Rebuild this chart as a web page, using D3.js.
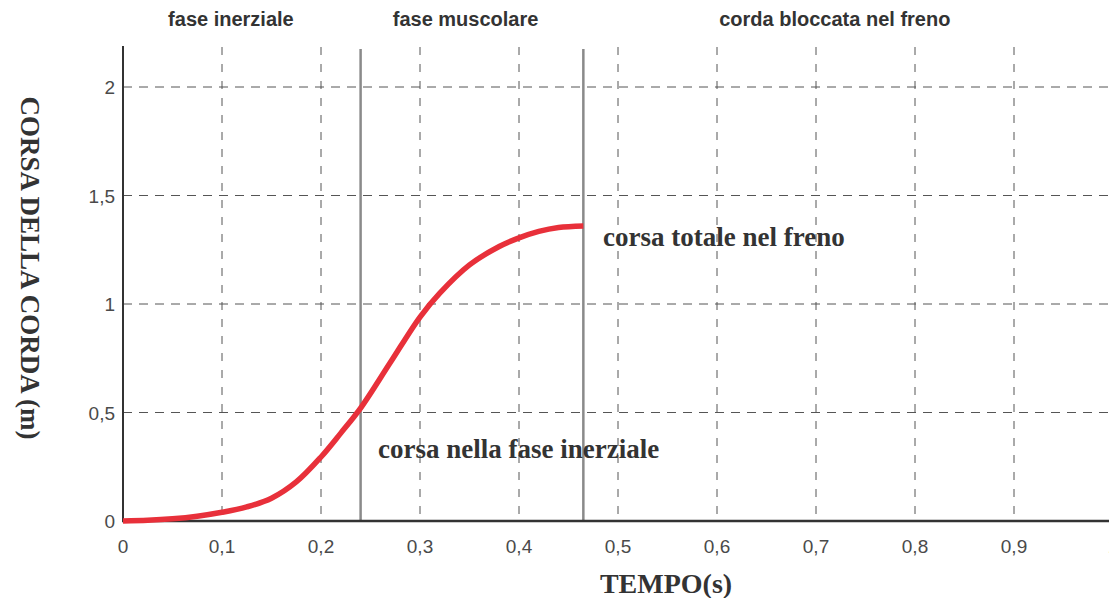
<!DOCTYPE html>
<html lang="it">
<head>
<meta charset="utf-8">
<style>
  body { margin: 0; background: #fff; }
  svg { display: block; }
  .grid { stroke: #555; stroke-width: 1; fill: none; }
  .tick-label { font-family: "Liberation Sans", Arial, sans-serif; font-size: 19px; fill: #4a4a4a; }
  .phase { font-family: "Liberation Sans", Arial, sans-serif; font-size: 20px; font-weight: bold; fill: #333; }
  .serif { font-family: "Liberation Serif", "DejaVu Serif", serif; font-weight: bold; fill: #333; }
</style>
</head>
<body>
<svg width="1109" height="598"></svg>
<script src="https://cdn.jsdelivr.net/npm/d3@7"></script>
<script>
// tempo (s) e corsa (m)
var tempo = [0, 0.025, 0.05, 0.075, 0.1, 0.125, 0.15, 0.175, 0.2, 0.22, 0.24, 0.27, 0.3, 0.32, 0.35, 0.38, 0.4, 0.42, 0.44, 0.465];
var corsa = [0, 0.003, 0.01, 0.022, 0.04, 0.065, 0.105, 0.18, 0.295, 0.405, 0.52, 0.73, 0.94, 1.05, 1.18, 1.265, 1.305, 1.335, 1.353, 1.36];

var xTicks = [0, 0.1, 0.2, 0.3, 0.4, 0.5, 0.6, 0.7, 0.8, 0.9, 1];
var yTicks = [0, 0.5, 1, 1.5, 2];
var phaseBounds = [0.24, 0.465];
var phaseLabels = ["fase inerziale", "fase muscolare", "corda bloccata nel freno"];
var phaseCenters = [0.109, 0.346, 0.719];

var svg = d3.select("svg");
var x = d3.scaleLinear().domain([0, 1]).range([123, 1113]);
var y = d3.scaleLinear().domain([0, 2]).range([521, 87]);
var fmt = function (d) { return String(d).replace(".", ","); };

// griglia
svg.selectAll(".vgrid").data(xTicks.slice(1, 10)).enter().append("line")
  .attr("class", "grid")
  .attr("stroke-dasharray", "8,9")
  .attr("x1", function (d) { return x(d); }).attr("x2", function (d) { return x(d); })
  .attr("y1", 47).attr("y2", 521);
svg.selectAll(".hgrid").data(yTicks.slice(1)).enter().append("line")
  .attr("class", "grid")
  .attr("stroke-dasharray", "9,7")
  .attr("x1", 123).attr("x2", 1109)
  .attr("y1", function (d) { return y(d); }).attr("y2", function (d) { return y(d); });

// limiti delle fasi
svg.selectAll(".bound").data(phaseBounds).enter().append("line")
  .attr("x1", function (d) { return x(d); }).attr("x2", function (d) { return x(d); })
  .attr("y1", 49).attr("y2", 521)
  .attr("stroke", "#8a8a8a").attr("stroke-width", 2.5);

// assi
svg.append("line").attr("x1", 123).attr("x2", 123).attr("y1", 46).attr("y2", 522)
  .attr("stroke", "#333").attr("stroke-width", 2);
svg.append("line").attr("x1", 122).attr("x2", 1109).attr("y1", 521).attr("y2", 521)
  .attr("stroke", "#333").attr("stroke-width", 2.5);

svg.selectAll(".xl").data(xTicks).enter().append("text")
  .attr("class", "tick-label")
  .attr("x", function (d) { return x(d); }).attr("y", 553)
  .attr("text-anchor", "middle")
  .text(fmt);
svg.selectAll(".yl").data(yTicks).enter().append("text")
  .attr("class", "tick-label")
  .attr("x", 115).attr("y", function (d) { return y(d) + 7; })
  .attr("text-anchor", "end")
  .text(fmt);

// titoli delle fasi
svg.selectAll(".ph").data(phaseLabels).enter().append("text")
  .attr("class", "phase")
  .attr("x", function (d, i) { return x(phaseCenters[i]); })
  .attr("y", 26)
  .attr("text-anchor", "middle")
  .text(function (d) { return d; });

// curva
var line = d3.line()
  .x(function (d, i) { return x(tempo[i]); })
  .y(function (d) { return y(d); })
  .curve(d3.curveCatmullRom.alpha(0.5));
svg.append("path").datum(corsa)
  .attr("d", line)
  .attr("fill", "none")
  .attr("stroke", "#e8303a")
  .attr("stroke-width", 5.5);

// annotazioni
svg.append("text").attr("class", "serif").attr("font-size", 27)
  .attr("x", 603).attr("y", 246).text("corsa totale nel freno");
svg.append("text").attr("class", "serif").attr("font-size", 27)
  .attr("x", 378).attr("y", 458).text("corsa nella fase inerziale");

// titoli assi
svg.append("text").attr("class", "serif").attr("font-size", 27)
  .attr("text-anchor", "middle")
  .attr("transform", "translate(21,268) rotate(90)")
  .text("CORSA DELLA CORDA (m)");
svg.append("text").attr("class", "serif").attr("font-size", 28)
  .attr("text-anchor", "middle")
  .attr("x", 666).attr("y", 593)
  .text("TEMPO(s)");
</script>
</body>
</html>
